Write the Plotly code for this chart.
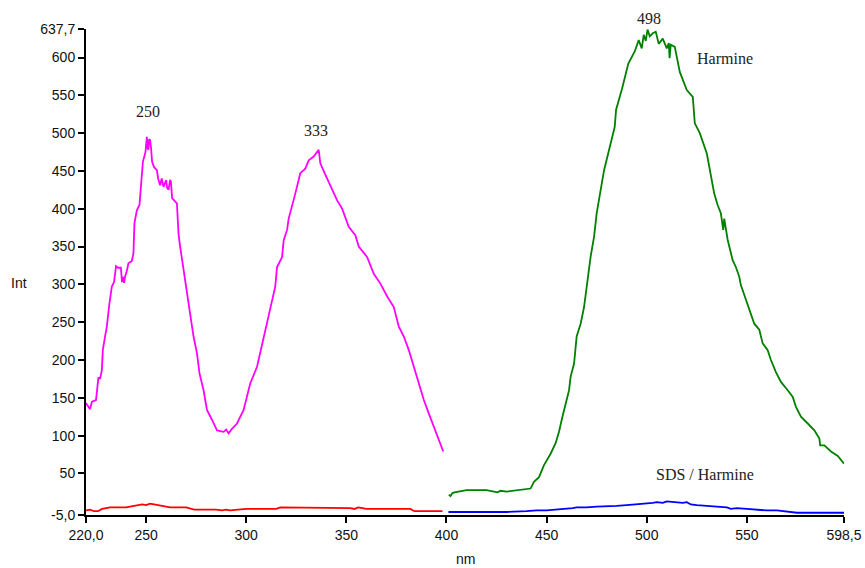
import plotly.graph_objects as go

# ---- Data ----
exc_nm = [220, 221, 222, 223, 225, 226.2, 227, 227.9, 228.4, 229.5, 230.4, 231.7, 232.9, 234, 235,
          236, 237.4, 238, 238.5, 239, 239.5, 240.4, 241.2, 242.9, 243.7, 244.2, 245.4, 246.7, 247.4,
          248.4, 249.7, 250.4, 250.8, 251.2, 251.5, 252, 252.5, 253, 254, 255.4, 256, 257, 257.8,
          258.7, 260, 260.5, 261.2, 262, 262.4, 263, 265.4, 266.2, 267, 268.7, 269.5, 270.4, 272,
          273.7, 275.4, 276.7, 278.7, 280.4, 282.9, 285.4, 287, 288.7, 290, 291.2, 292.9, 295.4,
          298.7, 302, 305.4, 308.7, 311.2, 312, 314.5, 315.4, 317.9, 318.7, 320.4, 321.2, 322.9,
          324.5, 327, 329.5, 331.2, 333.7, 336.2, 337, 339.5, 342.9, 345.4, 347.9, 351.2, 354.5,
          356.2, 360.4, 363.7, 367, 370.4, 373.7, 376.2, 378.7, 381.2, 383.7, 386.2, 388.7, 391.2,
          393.7, 396.2, 398.4]
exc_int = [143, 138, 135, 145, 147, 177, 175, 186, 213, 231, 244, 275, 297, 303, 324,
           322, 322, 303, 310, 302, 310, 318, 328, 331, 341, 381, 398, 405, 431,
           462, 475, 495, 480, 478, 492, 491, 480, 462, 455, 451, 440, 431, 440,
           429, 438, 428, 425, 438, 436, 414, 407, 367, 350, 318, 305, 292, 257,
           231, 209, 182, 160, 134, 121, 107, 106, 105, 108, 103, 109, 116,
           134, 169, 191, 231, 257, 270, 297, 323, 336, 358, 372, 387, 403,
           420, 447, 453, 464, 469, 478, 460, 445, 425, 411, 400, 376, 365,
           350, 336, 314, 301, 284, 270, 244, 231, 213, 191, 169, 147, 129,
           112, 94, 79]

exc_sds_nm = [220, 222, 224, 226, 228, 230, 232, 240, 245, 248, 250, 252, 254, 256, 258, 262, 270,
              272, 274, 285, 288, 290, 292, 300, 315, 317, 330, 350, 352, 354, 356, 358, 360,
              375, 382, 384, 398]
exc_sds_int = [1, 2, 0, 0, 3, 4, 5, 5, 8, 9, 8, 10, 9, 8, 6, 5, 5,
               3, 2, 2, 1, 2, 1, 3, 3, 5, 5, 5, 4, 3, 5, 4, 3,
               3, 3, 0, 0]

em_nm = [401.2, 402, 403, 404, 410, 420, 425.5, 427, 430, 437, 442, 443.7, 446.2, 448.7, 452, 454.5,
         456.2, 457.9, 459.2, 461.2, 462, 463.7, 465, 467, 468.7, 470.4, 472, 473.7, 475, 477,
         478.7, 481.2, 482.5, 484, 484.7, 487.7, 490.8, 494, 496, 497.5, 498.5, 499.5, 500.4, 501.5,
         503, 504.5, 506, 508, 510, 511, 511.4, 512, 514, 516.5, 520, 523, 524, 526.5, 530,
         532, 533.7, 535.4, 537, 538.2, 538.7, 540.4, 542.9, 544.5, 546.2, 547, 548.7, 551.2,
         553.7, 556.2, 557.9, 560.4, 562, 564.5, 567, 570.4, 572.9, 574.5, 577, 580.4, 583.7,
         586.2, 586.6, 588.7, 592, 595.4, 598.5]
em_int = [22, 20, 24, 25, 28, 28, 25, 27, 26, 28, 30, 39, 45, 61, 76, 90,
          105, 125, 138, 160, 178, 195, 231, 248, 270, 306, 337, 363, 394, 425,
          451, 478, 491, 508, 531, 559, 592, 608, 623, 612, 630, 622, 637, 628,
          632, 634, 618, 625, 612, 619, 599, 617, 614, 581, 557, 548, 513, 500, 473,
          445, 420, 405, 394, 372, 387, 359, 332, 323, 310, 299, 286, 268,
          248, 240, 222, 213, 200, 184, 171, 160, 151, 138, 125, 116, 107,
          96, 87, 87, 79, 73, 63]

em_sds_nm = [401, 410, 413, 415, 420, 427, 430, 440, 445, 450, 455, 460, 463, 465, 470, 475, 480,
             485, 490, 495, 500, 503, 505, 508, 510, 513, 516, 518, 520, 522, 525, 530, 535,
             540, 542, 545, 550, 555, 560, 565, 570, 572, 575, 580, 585, 590, 598.5]
em_sds_int = [-1, -1, -2, -1, -1, -2, -1, 0, 1, 1, 2, 3, 4, 5, 5, 6, 6,
              7, 8, 9, 10, 11, 12, 11, 13, 12, 12, 11, 12, 9, 8, 7, 6,
              5, 3, 4, 3, 2, 1, 1, 0, -1, -2, -2, -2, -2, -2]

x_tick_vals = [220, 250, 300, 350, 400, 450, 500, 550, 598.5]
x_tick_text = ["220,0", "250", "300", "350", "400", "450", "500", "550", "598,5"]
y_tick_vals = [-5, 50, 100, 150, 200, 250, 300, 350, 400, 450, 500, 550, 600, 637.7]
y_tick_text = ["-5,0", "50", "100", "150", "200", "250", "300", "350", "400", "450", "500",
               "550", "600", "637,7"]

x_min, x_max = 220, 598.5
y_min, y_max = -5, 637.7

# ---- Figure ----
W, H = 865, 568
plot_l, plot_r, plot_t, plot_b = 86, 844, 29, 515

fig = go.Figure()
lw = 1.8
fig.add_trace(go.Scatter(x=exc_nm, y=exc_int, mode="lines",
                         line=dict(color="#ff00ff", width=lw), name="exc Harmine"))
fig.add_trace(go.Scatter(x=exc_sds_nm, y=exc_sds_int, mode="lines",
                         line=dict(color="#ff0000", width=lw), name="exc SDS"))
fig.add_trace(go.Scatter(x=em_nm, y=em_int, mode="lines",
                         line=dict(color="#008000", width=lw), name="em Harmine"))
fig.add_trace(go.Scatter(x=em_sds_nm, y=em_sds_int, mode="lines",
                         line=dict(color="#0000ff", width=lw), name="em SDS"))

serif = dict(family="Liberation Serif, Times New Roman, serif", size=16, color="#222")
sans = dict(family="Liberation Sans, Arial, sans-serif", size=14, color="#111")

pw, ph = plot_r - plot_l, plot_b - plot_t
common = dict(showarrow=False, xanchor="center", yanchor="middle")
annots = [
    dict(x=251, y=528, text="250", xref="x", yref="y", font=serif, **common),
    dict(x=335, y=504, text="333", xref="x", yref="y", font=serif, **common),
    dict(x=501, y=(plot_b - 19) / ph, text="498", xref="x", yref="paper", font=serif, **common),
    dict(x=539, y=599, text="Harmine", xref="x", yref="y", font=serif, **common),
    dict(x=529, y=48, text="SDS / Harmine", xref="x", yref="y", font=serif, **common),
    dict(x=(19 - plot_l) / pw, y=(plot_b - 283) / ph, text="Int",
         xref="paper", yref="paper", font=sans, **common),
    dict(x=(465 - plot_l) / pw, y=(plot_b - 559) / ph, text="nm",
         xref="paper", yref="paper", font=sans, **common),
]

fig.update_layout(
    width=W, height=H, autosize=False,
    margin=dict(l=plot_l, r=W - plot_r, t=plot_t, b=H - plot_b, autoexpand=False),
    paper_bgcolor="white", plot_bgcolor="white",
    showlegend=False,
    font=sans,
    annotations=annots,
)
fig.update_xaxes(range=[x_min, x_max], tickmode="array", tickvals=x_tick_vals,
                 ticktext=x_tick_text, showgrid=False, zeroline=False, automargin=False,
                 showline=True, linecolor="black", linewidth=2,
                 ticks="outside", ticklen=6, tickwidth=2, tickcolor="black",
                 tickfont=sans)
fig.update_yaxes(range=[y_min, y_max], tickmode="array", tickvals=y_tick_vals,
                 ticktext=y_tick_text, showgrid=False, zeroline=False, automargin=False,
                 showline=True, linecolor="black", linewidth=2,
                 ticks="outside", ticklen=6, tickwidth=2, tickcolor="black",
                 tickfont=sans)

# remove the default 8px page margin so the figure sits at the window's corner
fig.write_html("out.html",
               config=dict(displayModeBar=False),
               post_script="document.body.style.margin='0px';"
                           "document.body.style.overflow='hidden';")
